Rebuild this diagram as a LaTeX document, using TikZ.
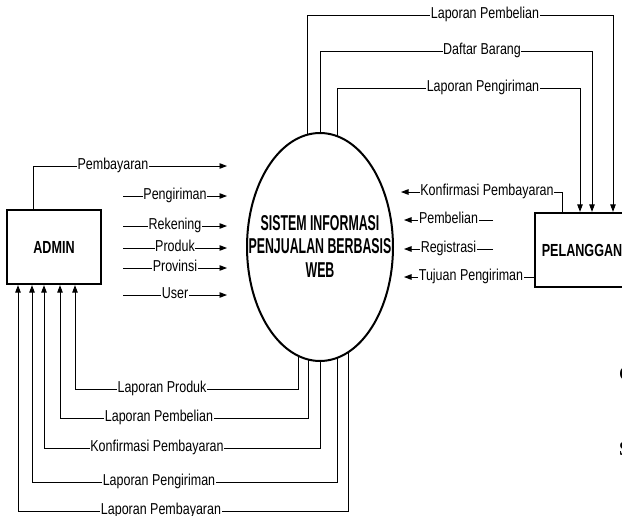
\documentclass[tikz,border=0pt]{standalone}
\usepackage{fontspec}
\setmainfont{Liberation Sans}
\newfontfamily\labfont[FakeStretch=0.79]{Liberation Sans}
\newfontfamily\entfont[FakeStretch=0.72]{Liberation Sans}
\newfontfamily\procfont[FakeStretch=0.575]{Liberation Sans}
\newfontfamily\docfont{Liberation Serif}
\usetikzlibrary{arrows.meta,shapes.geometric,backgrounds}
\tikzset{
  conn/.style={line width=0.9pt},
  arr/.style={conn,-{Triangle[length=7.5pt,width=5.5pt]}},
  lab/.style={fill=white,inner xsep=0.6pt,inner ysep=2pt,text height=7.4pt,text depth=0pt,
              font=\labfont\fontsize{15.8}{15.8}\selectfont},
  ent/.style={draw,line width=2.3pt,inner sep=0pt,font=\entfont\bfseries\fontsize{17.5}{18}\selectfont},
  proc/.style={ellipse,draw,line width=2pt,fill=white,inner sep=0pt,minimum width=146pt,minimum height=228pt},
  proctext/.style={align=center,inner sep=0pt,font=\procfont\bfseries\fontsize{21.5}{23.5}\selectfont},
  frag/.style={anchor=west,inner sep=0pt,font=\docfont\bfseries\fontsize{20}{20}\selectfont}
}
\begin{document}
\begin{tikzpicture}[x=1pt,y=-1pt]
\useasboundingbox (0,0) rectangle (622,515);
% entities and process
\node[ent,minimum width=94pt,minimum height=74pt] (admin) at (54,247) {ADMIN};
\node[ent,minimum width=94pt,minimum height=74pt] (pel) at (582,250) {PELANGGAN};
\node[proc] (sys) at (320,247) {};
\node[proctext] (systext) at (320,246) {SISTEM INFORMASI\\PENJUALAN BERBASIS\\WEB};
% free ends
\coordinate (inPb) at (227,166);
\coordinate (inPg) at (227,196);
\coordinate (inRk) at (227,226);
\coordinate (inPr) at (227,248);
\coordinate (inPv) at (227,268);
\coordinate (inUs) at (227,295);
\coordinate (inKp) at (401,192);
\coordinate (inPl) at (404,220);
\coordinate (inRg) at (404,249);
\coordinate (inTp) at (404,277);
\begin{pgfonlayer}{background}
% ADMIN -> system
\draw[arr] (33,0 |- admin.north) |- (inPb);
\node[lab] at (113,166) {Pembayaran};
\draw[arr] (123,196) -- (inPg) node[lab,midway] {Pengiriman};
\draw[arr] (123,226) -- (inRk) node[lab,midway] {Rekening};
\draw[arr] (123,248) -- (inPr) node[lab,midway] {Produk};
\draw[arr] (123,268) -- (inPv) node[lab,midway] {Provinsi};
\draw[arr] (123,295) -- (inUs) node[lab,midway] {User};
% PELANGGAN -> system
\draw[arr] (562,0 |- pel.north) |- (inKp);
\node[lab] at (487,192) {Konfirmasi Pembayaran};
\draw[arr] (493,220) -- (inPl) node[lab,midway] {Pembelian};
\draw[arr] (493,249) -- (inRg) node[lab,midway] {Registrasi};
\draw[arr] (pel.west |- 0,277) -- (inTp);
\node[lab] at (471,277) {Tujuan Pengiriman};
% system -> PELANGGAN (top)
\draw[arr] (307,0 |- sys.center) |- (613,15) -- (613,0 |- pel.north);
\node[lab] at (485,15) {Laporan Pembelian};
\draw[arr] (320,0 |- sys.center) |- (592,51) -- (592,0 |- pel.north);
\node[lab] at (482,51) {Daftar Barang};
\draw[arr] (337,0 |- sys.center) |- (580,88) -- (580,0 |- pel.north);
\node[lab] at (483,88) {Laporan Pengiriman};
% system -> ADMIN (bottom)
\draw[arr] (298,0 |- sys.center) |- (75,389) -- (75,0 |- admin.south);
\node[lab] at (162,389) {Laporan Produk};
\draw[arr] (308,0 |- sys.center) |- (60,418) -- (60,0 |- admin.south);
\node[lab] at (159,418) {Laporan Pembelian};
\draw[arr] (320,0 |- sys.center) |- (44,448) -- (44,0 |- admin.south);
\node[lab] at (157,448) {Konfirmasi Pembayaran};
\draw[arr] (337,0 |- sys.center) |- (32,482) -- (32,0 |- admin.south);
\node[lab] at (159,482) {Laporan Pengiriman};
\draw[arr] (348,0 |- sys.center) |- (18,511) -- (18,0 |- admin.south);
\node[lab] at (161,511) {Laporan Pembayaran};
\end{pgfonlayer}
% fragments of surrounding page text at the right edge
\node[frag] at (619,374) {C};
\node[frag] at (619,449) {S};
\end{tikzpicture}
\end{document}
